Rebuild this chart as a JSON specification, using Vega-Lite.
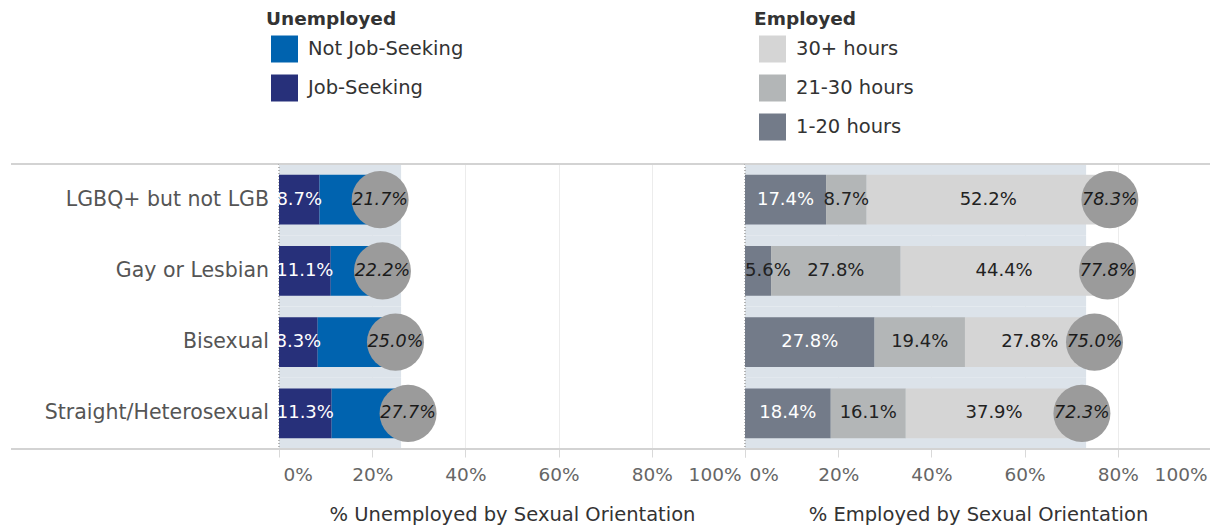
{
  "$schema": "https://vega.github.io/schema/vega-lite/v6.json",
  "padding": {"left": 10, "top": 10, "right": 0, "bottom": 2},
  "background": "white",
  "bounds": "flush",
  "spacing": 0,
  "datasets": {
    "unemp": [
      {"orientation": "LGBQ+ but not LGB", "status": "Job-Seeking", "value": 0.087},
      {"orientation": "LGBQ+ but not LGB", "status": "Not Job-Seeking", "value": 0.130},
      {"orientation": "Gay or Lesbian", "status": "Job-Seeking", "value": 0.111},
      {"orientation": "Gay or Lesbian", "status": "Not Job-Seeking", "value": 0.111},
      {"orientation": "Bisexual", "status": "Job-Seeking", "value": 0.083},
      {"orientation": "Bisexual", "status": "Not Job-Seeking", "value": 0.167},
      {"orientation": "Straight/Heterosexual", "status": "Job-Seeking", "value": 0.113},
      {"orientation": "Straight/Heterosexual", "status": "Not Job-Seeking", "value": 0.164}
    ],
    "emp": [
      {"orientation": "LGBQ+ but not LGB", "status": "1-20 hours", "value": 0.174},
      {"orientation": "LGBQ+ but not LGB", "status": "21-30 hours", "value": 0.087},
      {"orientation": "LGBQ+ but not LGB", "status": "30+ hours", "value": 0.522},
      {"orientation": "Gay or Lesbian", "status": "1-20 hours", "value": 0.056},
      {"orientation": "Gay or Lesbian", "status": "21-30 hours", "value": 0.278},
      {"orientation": "Gay or Lesbian", "status": "30+ hours", "value": 0.444},
      {"orientation": "Bisexual", "status": "1-20 hours", "value": 0.278},
      {"orientation": "Bisexual", "status": "21-30 hours", "value": 0.194},
      {"orientation": "Bisexual", "status": "30+ hours", "value": 0.278},
      {"orientation": "Straight/Heterosexual", "status": "1-20 hours", "value": 0.184},
      {"orientation": "Straight/Heterosexual", "status": "21-30 hours", "value": 0.161},
      {"orientation": "Straight/Heterosexual", "status": "30+ hours", "value": 0.379}
    ],
    "totals": [
      {"orientation": "LGBQ+ but not LGB", "unemp_total": 0.217, "emp_total": 0.783, "unemp_avg": 0.262, "emp_avg": 0.732},
      {"orientation": "Gay or Lesbian", "unemp_total": 0.222, "emp_total": 0.778, "unemp_avg": 0.262, "emp_avg": 0.732},
      {"orientation": "Bisexual", "unemp_total": 0.250, "emp_total": 0.750, "unemp_avg": 0.262, "emp_avg": 0.732},
      {"orientation": "Straight/Heterosexual", "unemp_total": 0.277, "emp_total": 0.723, "unemp_avg": 0.262, "emp_avg": 0.732}
    ]
  },
  "config": {
    "font": "DejaVu Sans",
    "view": {"stroke": null},
    "axis": {
      "labelFont": "DejaVu Sans", "labelFontSize": 18.5, "labelColor": "#666666",
      "titleFont": "DejaVu Sans", "titleFontSize": 19.5, "titleColor": "#333333", "titleFontWeight": "normal",
      "domain": false, "tickColor": "#d9d9d9", "tickSize": 8, "labelPadding": 8, "titlePadding": 22,
      "gridColor": "#ececec"
    },
    "legend": {
      "orient": "none",
      "titleFont": "DejaVu Sans", "titleFontSize": 18.5, "titleFontWeight": "bold", "titleColor": "#333333",
      "labelFont": "DejaVu Sans", "labelFontSize": 19.5, "labelColor": "#333333",
      "symbolType": "square", "symbolSize": 729, "symbolStrokeWidth": 0, "symbolOffset": 5,
      "rowPadding": 12, "labelOffset": 10, "titlePadding": 7
    }
  },
  "resolve": {"scale": {"color": "independent"}},
  "hconcat": [
    {
      "width": 268, "height": 285,
      "data": {"name": "totals"},
      "layer": [
        {
          "mark": {"type": "text", "align": "right", "baseline": "middle", "dx": -10, "fontSize": 20.5, "color": "#555555"},
          "encoding": {
            "y": {"field": "orientation", "type": "nominal", "sort": ["LGBQ+ but not LGB", "Gay or Lesbian", "Bisexual", "Straight/Heterosexual"], "scale": {"paddingInner": 0, "paddingOuter": 0}, "axis": null},
            "x": {"datum": 1, "type": "quantitative", "scale": {"domain": [0, 1]}, "axis": null},
            "text": {"field": "orientation"}
          }
        },
        {
          "transform": [{"filter": "datum.orientation == 'LGBQ+ but not LGB'"}],
          "mark": {"type": "rule", "color": "#d3d3d3", "strokeWidth": 2},
          "encoding": {"y": {"field": "orientation", "type": "nominal", "sort": ["LGBQ+ but not LGB", "Gay or Lesbian", "Bisexual", "Straight/Heterosexual"], "bandPosition": 0}}
        },
        {
          "transform": [{"filter": "datum.orientation == 'Straight/Heterosexual'"}],
          "mark": {"type": "rule", "color": "#d3d3d3", "strokeWidth": 2},
          "encoding": {"y": {"field": "orientation", "type": "nominal", "sort": ["LGBQ+ but not LGB", "Gay or Lesbian", "Bisexual", "Straight/Heterosexual"], "bandPosition": 1}}
        }
      ]
    },
    {
      "width": 466, "height": 285,
      "layer": [
        {
          "data": {"name": "totals"},
          "mark": {"type": "bar", "color": "#dce3ea"},
          "encoding": {
            "y": {"field": "orientation", "type": "nominal", "sort": ["LGBQ+ but not LGB", "Gay or Lesbian", "Bisexual", "Straight/Heterosexual"], "scale": {"paddingInner": 0, "paddingOuter": 0}, "axis": null},
            "x": {"field": "unemp_avg", "type": "quantitative", "title": "% Unemployed by Sexual Orientation", "scale": {"domain": [0, 1]},
                  "axis": {"values": [0, 0.2, 0.4, 0.6, 0.8, 1], "format": ".0%", "grid": true, "labelFlush": true, "labelFlushOffset": -4}}
          }
        },
        {
          "data": {"name": "totals"},
          "mark": {"type": "rule", "color": "#b0b0b0", "strokeDash": [1, 2]},
          "encoding": {"x": {"datum": 0, "type": "quantitative", "title": "% Unemployed by Sexual Orientation"}}
        },
        {
          "data": {"name": "unemp"},
          "mark": {"type": "bar", "height": {"band": 0.7}},
          "encoding": {
            "y": {"field": "orientation", "type": "nominal", "sort": ["LGBQ+ but not LGB", "Gay or Lesbian", "Bisexual", "Straight/Heterosexual"]},
            "x": {"field": "value", "type": "quantitative", "stack": "zero", "title": "% Unemployed by Sexual Orientation"},
            "color": {"field": "status", "type": "nominal", "scale": {"domain": ["Not Job-Seeking", "Job-Seeking"], "range": ["#0063af", "#27307a"]},
                      "legend": {"title": "Unemployed", "legendX": -13, "legendY": -154}},
            "order": {"field": "status", "sort": "ascending"}
          }
        },
        {
          "data": {"name": "unemp"},
          "transform": [{"filter": "datum.status == 'Job-Seeking'"}],
          "mark": {"type": "text", "color": "white", "fontSize": 18, "baseline": "middle"},
          "encoding": {
            "y": {"field": "orientation", "type": "nominal", "sort": ["LGBQ+ but not LGB", "Gay or Lesbian", "Bisexual", "Straight/Heterosexual"]},
            "x": {"field": "value", "type": "quantitative", "stack": "zero", "bandPosition": 0.5, "title": "% Unemployed by Sexual Orientation"},
            "detail": {"field": "status"},
            "text": {"field": "value", "format": ".1%"}
          }
        },
        {
          "data": {"name": "totals"},
          "mark": {"type": "circle", "size": 3250, "color": "#9b9b9b", "opacity": 1},
          "encoding": {
            "y": {"field": "orientation", "type": "nominal", "sort": ["LGBQ+ but not LGB", "Gay or Lesbian", "Bisexual", "Straight/Heterosexual"]},
            "x": {"field": "unemp_total", "type": "quantitative", "title": "% Unemployed by Sexual Orientation"}
          }
        },
        {
          "data": {"name": "totals"},
          "mark": {"type": "text", "fontStyle": "italic", "fontSize": 17.5, "color": "#1a1a1a", "baseline": "middle"},
          "encoding": {
            "y": {"field": "orientation", "type": "nominal", "sort": ["LGBQ+ but not LGB", "Gay or Lesbian", "Bisexual", "Straight/Heterosexual"]},
            "x": {"field": "unemp_total", "type": "quantitative", "title": "% Unemployed by Sexual Orientation"},
            "text": {"field": "unemp_total", "format": ".1%"}
          }
        },
        {
          "data": {"name": "totals"},
          "transform": [{"filter": "datum.orientation == 'LGBQ+ but not LGB'"}],
          "mark": {"type": "rule", "color": "#d3d3d3", "strokeWidth": 2},
          "encoding": {"y": {"field": "orientation", "type": "nominal", "sort": ["LGBQ+ but not LGB", "Gay or Lesbian", "Bisexual", "Straight/Heterosexual"], "bandPosition": 0}}
        },
        {
          "data": {"name": "totals"},
          "transform": [{"filter": "datum.orientation == 'Straight/Heterosexual'"}],
          "mark": {"type": "rule", "color": "#d3d3d3", "strokeWidth": 2},
          "encoding": {"y": {"field": "orientation", "type": "nominal", "sort": ["LGBQ+ but not LGB", "Gay or Lesbian", "Bisexual", "Straight/Heterosexual"], "bandPosition": 1}}
        }
      ]
    },
    {
      "width": 466, "height": 285,
      "layer": [
        {
          "data": {"name": "totals"},
          "mark": {"type": "bar", "color": "#dce3ea"},
          "encoding": {
            "y": {"field": "orientation", "type": "nominal", "sort": ["LGBQ+ but not LGB", "Gay or Lesbian", "Bisexual", "Straight/Heterosexual"], "scale": {"paddingInner": 0, "paddingOuter": 0}, "axis": null},
            "x": {"field": "emp_avg", "type": "quantitative", "title": "% Employed by Sexual Orientation", "scale": {"domain": [0, 1]},
                  "axis": {"values": [0, 0.2, 0.4, 0.6, 0.8, 1], "format": ".0%", "grid": true, "labelFlush": true, "labelFlushOffset": -4}}
          }
        },
        {
          "data": {"name": "totals"},
          "mark": {"type": "rule", "color": "#b0b0b0", "strokeDash": [1, 2]},
          "encoding": {"x": {"datum": 0, "type": "quantitative", "title": "% Employed by Sexual Orientation"}}
        },
        {
          "data": {"name": "emp"},
          "mark": {"type": "bar", "height": {"band": 0.7}},
          "encoding": {
            "y": {"field": "orientation", "type": "nominal", "sort": ["LGBQ+ but not LGB", "Gay or Lesbian", "Bisexual", "Straight/Heterosexual"]},
            "x": {"field": "value", "type": "quantitative", "stack": "zero", "title": "% Employed by Sexual Orientation"},
            "color": {"field": "status", "type": "nominal", "scale": {"domain": ["30+ hours", "21-30 hours", "1-20 hours"], "range": ["#d5d5d5", "#b3b6b7", "#737b89"]},
                      "legend": {"title": "Employed", "legendX": 9, "legendY": -154}},
            "order": {"field": "status", "sort": "ascending"}
          }
        },
        {
          "data": {"name": "emp"},
          "mark": {"type": "text", "fontSize": 18, "baseline": "middle"},
          "encoding": {
            "y": {"field": "orientation", "type": "nominal", "sort": ["LGBQ+ but not LGB", "Gay or Lesbian", "Bisexual", "Straight/Heterosexual"]},
            "x": {"field": "value", "type": "quantitative", "stack": "zero", "bandPosition": 0.5, "title": "% Employed by Sexual Orientation"},
            "detail": {"field": "status"},
            "order": {"field": "status", "sort": "ascending"},
            "color": {"condition": {"test": "datum.status == '1-20 hours'", "value": "white"}, "value": "#222222"},
            "text": {"condition": {"test": "datum.value < 0.08", "value": ""}, "field": "value", "format": ".1%"}
          }
        },
        {
          "data": {"name": "emp"},
          "transform": [{"filter": "datum.value < 0.08"}],
          "mark": {"type": "text", "fontSize": 18, "baseline": "middle", "align": "left", "dx": 0, "color": "#222222"},
          "encoding": {
            "y": {"field": "orientation", "type": "nominal", "sort": ["LGBQ+ but not LGB", "Gay or Lesbian", "Bisexual", "Straight/Heterosexual"]},
            "x": {"field": "value", "type": "quantitative", "stack": "zero", "bandPosition": 0, "title": "% Employed by Sexual Orientation"},
            "detail": {"field": "status"},
            "text": {"field": "value", "format": ".1%"}
          }
        },
        {
          "data": {"name": "totals"},
          "mark": {"type": "circle", "size": 3250, "color": "#9b9b9b", "opacity": 1},
          "encoding": {
            "y": {"field": "orientation", "type": "nominal", "sort": ["LGBQ+ but not LGB", "Gay or Lesbian", "Bisexual", "Straight/Heterosexual"]},
            "x": {"field": "emp_total", "type": "quantitative", "title": "% Employed by Sexual Orientation"}
          }
        },
        {
          "data": {"name": "totals"},
          "mark": {"type": "text", "fontStyle": "italic", "fontSize": 17.5, "color": "#1a1a1a", "baseline": "middle"},
          "encoding": {
            "y": {"field": "orientation", "type": "nominal", "sort": ["LGBQ+ but not LGB", "Gay or Lesbian", "Bisexual", "Straight/Heterosexual"]},
            "x": {"field": "emp_total", "type": "quantitative", "title": "% Employed by Sexual Orientation"},
            "text": {"field": "emp_total", "format": ".1%"}
          }
        },
        {
          "data": {"name": "totals"},
          "transform": [{"filter": "datum.orientation == 'LGBQ+ but not LGB'"}],
          "mark": {"type": "rule", "color": "#d3d3d3", "strokeWidth": 2},
          "encoding": {"y": {"field": "orientation", "type": "nominal", "sort": ["LGBQ+ but not LGB", "Gay or Lesbian", "Bisexual", "Straight/Heterosexual"], "bandPosition": 0}}
        },
        {
          "data": {"name": "totals"},
          "transform": [{"filter": "datum.orientation == 'Straight/Heterosexual'"}],
          "mark": {"type": "rule", "color": "#d3d3d3", "strokeWidth": 2},
          "encoding": {"y": {"field": "orientation", "type": "nominal", "sort": ["LGBQ+ but not LGB", "Gay or Lesbian", "Bisexual", "Straight/Heterosexual"], "bandPosition": 1}}
        }
      ]
    }
  ]
}
